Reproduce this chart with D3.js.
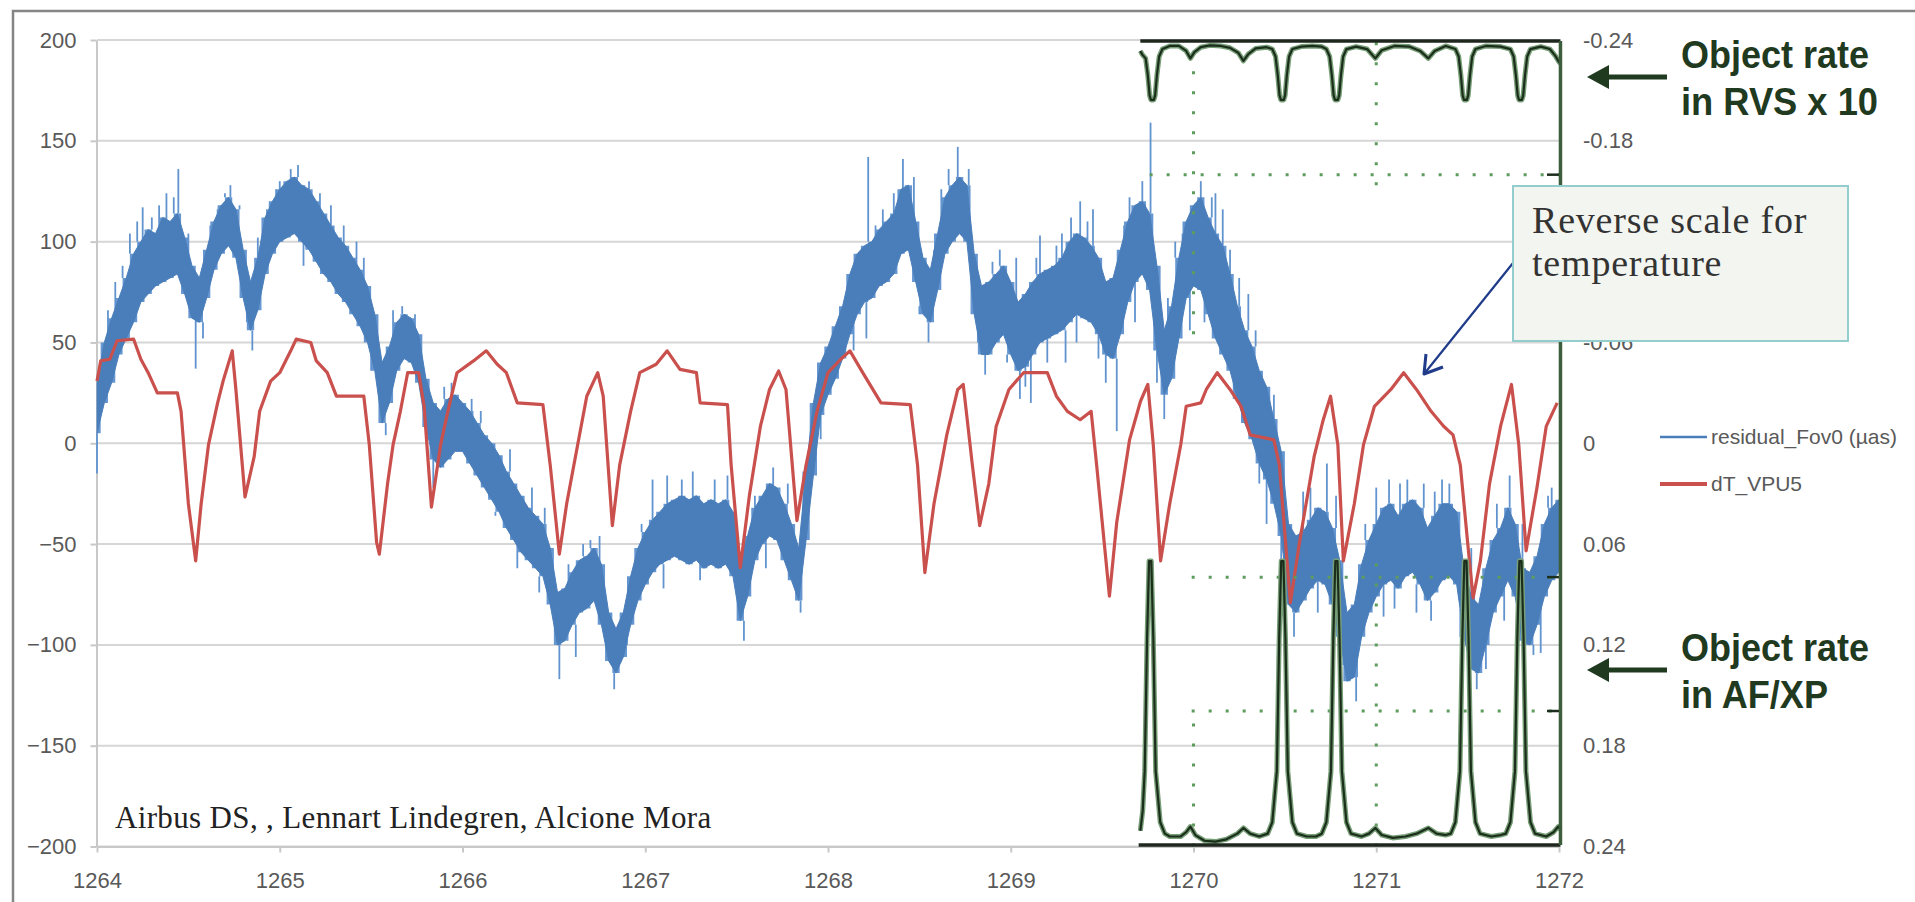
<!DOCTYPE html>
<html>
<head>
<meta charset="utf-8">
<script src="https://cdn.jsdelivr.net/npm/d3@7"></script>
<style>
  body { margin: 0; background: #fff; }
  svg { display: block; }
</style>
</head>
<body>
<svg id="chart" width="1915" height="902"></svg>
<script>
// axis ticks
const dayTicks = [1264, 1265, 1266, 1267, 1268, 1269, 1270, 1271, 1272];
const residTicks = [-200, -150, -100, -50, 0, 50, 100, 150, 200];
const tempTicks = [-0.24, -0.18, -0.12, -0.06, 0, 0.06, 0.12, 0.18, 0.24];
const hiddenTempTick = -0.12; // sits under the note box in the original

// residual_Fov0 (uas): band, one bin every 0.04 day
const residStart = 1264, residStep = 0.04;
const residLo = [5,20,30,44,52,60,70,74,78,80, 82,84,74,62,60,72,86,94,98,92,
  72,56,66,84,94,100,102,104,100,96, 90,84,80,74,70,64,58,50,36,10,
  20,36,42,40,30,8,-8,-12,-8,-4, -4,-10,-16,-22,-28,-34,-42,-48,-54,-58,
  -62,-66,-80,-100,-98,-90,-84,-82,-78,-90, -108,-114,-106,-90,-78,-70,-64,-60,-58,-56,
  -58,-60,-58,-62,-60,-62,-60,-66,-88,-76, -58,-50,-46,-48,-58,-68,-78,-48,-16,14,
  24,32,42,54,64,70,72,78,80,84, 94,96,80,64,60,76,94,100,104,100,
  64,44,44,50,54,44,36,38,44,50, 52,54,56,60,64,62,60,54,44,42,
  54,70,80,84,76,46,24,32,52,72, 78,76,64,52,44,36,22,10,2,-10,
  -18,-30,-46,-80,-84,-78,-72,-68,-70,-80, -96,-118,-116,-96,-84,-76,-70,-68,-72,-66,
  -64,-70,-78,-74,-68,-66,-70,-96,-112,-114, -100,-84,-76,-68,-76,-98,-100,-90,-76,-68,
  -64];
const residHi = [30,50,62,72,82,94,100,106,104,112, 110,114,102,88,82,96,110,118,122,116,
  96,80,92,112,120,126,130,132,128,126, 120,114,108,102,98,92,86,78,64,40,
  48,60,64,62,54,32,20,16,22,24, 20,16,10,4,0,-6,-14,-20,-26,-32,
  -36,-40,-52,-74,-72,-64,-58,-56,-52,-60, -84,-92,-84,-66,-52,-44,-38,-34,-30,-28,
  -26,-28,-26,-30,-28,-30,-28,-34,-60,-46, -32,-26,-20,-22,-30,-40,-52,-14,20,40,
  48,58,68,84,94,98,100,106,110,114, 126,128,110,92,86,104,122,128,132,128,
  94,78,80,84,88,80,70,74,80,84, 86,88,92,100,104,102,98,92,80,82,
  96,110,118,120,114,88,56,68,92,110, 118,122,112,104,98,84,68,56,48,36,
  28,12,-4,-40,-46,-44,-38,-32,-34,-42, -58,-84,-80,-60,-48,-40,-32,-30,-36,-30,
  -28,-32,-42,-36,-30,-30,-34,-62,-76,-80, -62,-48,-42,-32,-40,-62,-64,-56,-40,-32,
  -28];
// isolated outliers of the residual [day, uas]
const residSpikes = [[1264.00,-15],[1264.06,66],[1264.10,80],[1264.14,88],[1264.18,104],[1264.22,110],
  [1264.25,117],[1264.30,112],[1264.34,118],[1264.38,124],[1264.42,122],[1264.445,136],[1264.50,104],
  [1264.54,37],[1264.58,52],[1264.62,108],[1264.66,116],[1264.70,124],[1264.73,128],[1264.78,118],
  [1264.82,60],[1264.85,46],[1264.88,102],[1264.93,116],[1264.98,126],[1265.00,130],[1265.06,136],
  [1265.10,138],[1265.13,88],[1265.16,130],[1265.22,124],[1265.28,118],[1265.35,108],[1265.42,100],
  [1265.46,92],[1265.50,44],[1265.58,4],[1265.62,66],[1265.67,68],[1265.74,64],[1265.84,-22],
  [1265.90,28],[1265.94,30],[1266.05,22],[1266.10,16],[1266.18,-36],[1266.26,-3],[1266.30,-62],
  [1266.38,-22],[1266.42,-74],[1266.45,-32],[1266.53,-117],[1266.58,-60],[1266.62,-106],[1266.66,-50],
  [1266.70,-48],[1266.75,-46],[1266.83,-122],[1266.90,-100],[1266.98,-40],[1267.04,-18],[1267.10,-72],
  [1267.12,-16],[1267.20,-18],[1267.26,-14],[1267.30,-68],[1267.38,-18],[1267.45,-16],[1267.54,-98],
  [1267.60,-26],[1267.66,-62],[1267.70,-12],[1267.78,-20],[1267.85,-84],[1267.96,2],[1268.06,62],
  [1268.10,74],[1268.14,46],[1268.21,52],[1268.22,142],[1268.26,108],[1268.30,116],[1268.36,124],
  [1268.41,141],[1268.47,132],[1268.50,68],[1268.55,50],[1268.58,96],[1268.62,126],[1268.66,136],
  [1268.71,147],[1268.77,136],[1268.82,50],[1268.86,34],[1268.90,90],[1268.94,96],[1268.98,40],
  [1269.03,92],[1269.05,22],[1269.08,28],[1269.11,20],[1269.14,92],[1269.16,103],[1269.20,40],
  [1269.25,98],[1269.28,104],[1269.30,40],[1269.33,112],[1269.36,50],[1269.38,120],[1269.42,110],
  [1269.45,116],[1269.48,42],[1269.52,30],[1269.58,6],[1269.62,108],[1269.65,122],[1269.68,60],
  [1269.72,130],[1269.765,159],[1269.80,30],[1269.84,12],[1269.86,72],[1269.90,100],[1269.94,104],
  [1269.98,56],[1270.04,130],[1270.06,60],[1270.10,122],[1270.12,124],[1270.16,116],[1270.20,96],
  [1270.22,30],[1270.25,82],[1270.30,74],[1270.34,56],[1270.36,-20],[1270.40,-40],[1270.44,24],
  [1270.48,-70],[1270.55,-96],[1270.60,-24],[1270.64,-22],[1270.68,-84],[1270.73,-10],[1270.78,-26],
  [1270.82,-110],[1270.89,-128],[1270.94,-40],[1271.00,-22],[1271.04,-86],[1271.07,-18],[1271.10,-82],
  [1271.13,-20],[1271.17,-18],[1271.22,-84],[1271.26,-20],[1271.30,-88],[1271.32,-24],[1271.36,-18],
  [1271.40,-20],[1271.46,-82],[1271.52,-52],[1271.55,-122],[1271.60,-112],[1271.66,-30],[1271.70,-88],
  [1271.73,-16],[1271.80,-40],[1271.86,-105],[1271.90,-104],[1271.94,-26],[1271.96,-22]];

// dT_VPU5 (K), plotted on the reversed right axis
const tempDays = [1264.00,1264.02,1264.07,1264.11,1264.20,1264.24,1264.28,1264.33,1264.44,1264.46,
  1264.50,1264.54,1264.57,1264.61,1264.66,1264.69,1264.74,1264.76,1264.81,1264.86,
  1264.89,1264.95,1265.00,1265.06,1265.09,1265.17,1265.20,1265.26,1265.31,1265.46,
  1265.49,1265.53,1265.545,1265.59,1265.62,1265.66,1265.70,1265.76,1265.79,1265.83,
  1265.88,1265.92,1265.97,1266.06,1266.13,1266.19,1266.24,1266.30,1266.44,1266.48,
  1266.53,1266.57,1266.63,1266.68,1266.74,1266.77,1266.82,1266.86,1266.92,1266.97,
  1267.06,1267.12,1267.19,1267.28,1267.30,1267.45,1267.47,1267.52,1267.57,1267.63,
  1267.68,1267.73,1267.77,1267.83,1267.88,1267.94,1268.00,1268.07,1268.12,1268.19,
  1268.29,1268.45,1268.49,1268.53,1268.58,1268.65,1268.71,1268.74,1268.79,1268.83,
  1268.88,1268.92,1268.99,1269.07,1269.20,1269.25,1269.31,1269.38,1269.44,1269.47,
  1269.54,1269.58,1269.65,1269.71,1269.75,1269.78,1269.82,1269.87,1269.93,1269.96,
  1270.04,1270.07,1270.13,1270.20,1270.26,1270.31,1270.44,1270.47,1270.53,1270.58,
  1270.66,1270.71,1270.75,1270.79,1270.82,1270.88,1270.93,1270.99,1271.08,1271.15,
  1271.22,1271.30,1271.37,1271.42,1271.46,1271.50,1271.53,1271.57,1271.62,1271.68,
  1271.74,1271.78,1271.82,1271.88,1271.93,1271.99];
const tempVals = [-0.037,-0.049,-0.050,-0.061,-0.062,-0.050,-0.042,-0.030,-0.030,-0.019,
  0.036,0.070,0.036,0.001,-0.024,-0.037,-0.055,-0.032,0.032,0.008,
  -0.019,-0.037,-0.042,-0.055,-0.062,-0.060,-0.049,-0.042,-0.028,-0.028,
  0.001,0.059,0.066,0.024,0.001,-0.019,-0.042,-0.042,-0.022,0.038,
  0.001,-0.019,-0.042,-0.049,-0.055,-0.047,-0.042,-0.024,-0.023,0.013,
  0.066,0.036,0.001,-0.028,-0.042,-0.028,0.049,0.013,-0.019,-0.042,
  -0.047,-0.055,-0.044,-0.042,-0.024,-0.023,0.013,0.074,0.031,-0.010,
  -0.032,-0.043,-0.032,0.046,0.013,-0.019,-0.042,-0.050,-0.055,-0.042,
  -0.024,-0.023,0.013,0.077,0.036,-0.005,-0.032,-0.035,0.013,0.049,
  0.024,-0.010,-0.032,-0.042,-0.042,-0.028,-0.019,-0.014,-0.019,0.013,
  0.091,0.047,-0.002,-0.025,-0.035,0.001,0.070,0.036,0.001,-0.022,
  -0.024,-0.032,-0.042,-0.032,-0.022,-0.005,-0.002,0.013,0.095,0.059,
  0.008,-0.014,-0.028,0.001,0.070,0.036,0.001,-0.022,-0.032,-0.042,
  -0.032,-0.019,-0.010,-0.005,0.013,0.059,0.092,0.070,0.024,-0.010,
  -0.035,0.001,0.064,0.026,-0.010,-0.024];

// pasted-in panel: object rate in RVS (x10), dip depth 0..10
const rvsRate = [[1269.709,1.6],[1269.72,2.2],[1269.738,2.8],[1269.750,5.5],[1269.760,8.8],[1269.767,9.5],
  [1269.783,9.5],[1269.790,8.8],[1269.800,5.5],[1269.812,2.5],[1269.83,1.3],[1269.87,0.8],[1269.92,0.8],
  [1269.96,1.6],[1269.983,2.8],[1270.005,1.8],[1270.04,1.0],[1270.09,0.7],[1270.15,0.8],[1270.20,1.1],
  [1270.245,1.9],[1270.273,3.2],[1270.30,2.1],[1270.34,1.2],[1270.40,1.0],[1270.431,1.3],[1270.449,2.5],
  [1270.461,5.5],[1270.471,8.8],[1270.478,9.5],[1270.494,9.5],[1270.501,8.8],[1270.511,5.5],[1270.523,2.5],
  [1270.541,1.3],[1270.59,0.9],[1270.65,0.8],[1270.70,0.9],[1270.727,1.3],[1270.745,2.5],[1270.757,5.5],
  [1270.767,8.8],[1270.774,9.5],[1270.790,9.5],[1270.797,8.8],[1270.807,5.5],[1270.819,2.5],[1270.837,1.3],
  [1270.89,0.9],[1270.95,1.3],[1270.995,2.8],[1271.03,1.5],[1271.10,0.8],[1271.18,0.9],[1271.24,1.6],
  [1271.285,2.8],[1271.32,1.6],[1271.38,0.8],[1271.433,1.3],[1271.451,2.5],[1271.463,5.5],[1271.473,8.8],
  [1271.480,9.5],[1271.496,9.5],[1271.503,8.8],[1271.513,5.5],[1271.525,2.5],[1271.543,1.3],[1271.60,0.8],
  [1271.68,0.9],[1271.734,1.3],[1271.752,2.5],[1271.764,5.5],[1271.774,8.8],[1271.781,9.5],[1271.797,9.5],
  [1271.804,8.8],[1271.814,5.5],[1271.826,2.5],[1271.844,1.3],[1271.90,0.9],[1271.95,1.3],[1271.98,2.4],
  [1272.00,3.4],[1272.008,3.6]];
// pasted-in panel: object rate in AF/XP, 0..10
const afRate = [[1269.709,0.5],[1269.722,1.2],[1269.733,2.6],[1269.746,7.3],[1269.757,10],[1269.769,10],[1269.780,7.3],
  [1269.793,2.6],[1269.818,0.8],[1269.843,0.4],[1269.87,0.3],[1269.93,0.3],[1269.96,0.45],[1269.983,0.65],
  [1270.01,0.35],[1270.06,0.15],[1270.12,0.12],[1270.18,0.2],[1270.24,0.4],[1270.273,0.6],[1270.31,0.4],
  [1270.36,0.3],[1270.406,0.4],[1270.431,0.8],[1270.456,2.6],[1270.469,7.3],[1270.480,10],[1270.492,10],
  [1270.503,7.3],[1270.516,2.6],[1270.541,0.8],[1270.566,0.4],[1270.62,0.3],[1270.67,0.3],[1270.702,0.4],
  [1270.727,0.8],[1270.752,2.6],[1270.765,7.3],[1270.776,10],[1270.788,10],[1270.799,7.3],[1270.812,2.6],
  [1270.837,0.8],[1270.862,0.4],[1270.92,0.3],[1270.96,0.4],[1270.995,0.6],[1271.03,0.35],[1271.09,0.25],
  [1271.16,0.3],[1271.22,0.4],[1271.285,0.6],[1271.33,0.4],[1271.38,0.35],[1271.408,0.4],[1271.433,0.8],
  [1271.458,2.6],[1271.471,7.3],[1271.482,10],[1271.494,10],[1271.505,7.3],[1271.518,2.6],[1271.543,0.8],
  [1271.568,0.4],[1271.63,0.3],[1271.68,0.35],[1271.709,0.4],[1271.734,0.8],[1271.759,2.6],[1271.772,7.3],
  [1271.783,10],[1271.795,10],[1271.806,7.3],[1271.819,2.6],[1271.844,0.8],[1271.869,0.4],[1271.93,0.3],
  [1271.97,0.45],[1271.996,0.65],[1272.008,0.55]];
// dotted grid of the pasted panel, in % of panel height
const insetHGrid = [[83.3, 1269.76], [33.4, 1269.99], [16.8, 1269.99]];
const insetVGrid = [[1270, 63.5, 100], [1270, 0, 15.6], [1271, 82, 100], [1271, 0, 35.8]];

const svg = d3.select("#chart");
const x = d3.scaleLinear().domain([1264, 1272]).range([97, 1559]);
const yResid = d3.scaleLinear().domain([-200, 200]).range([846.5, 40]);
const yTemp = d3.scaleLinear().domain([-0.24, 0.24]).range([40, 846.5]);
const yRvs = d3.scaleLinear().domain([0, 10]).range([41, 103]);
const yAf = d3.scaleLinear().domain([0, 10]).range([845, 561]);
const yInset = d3.scaleLinear().domain([0, 100]).range([846.5, 40]);

const labelFont = "'Liberation Sans', Arial, sans-serif";

// frame
svg.append("path").attr("d", "M13,902V11H1915")
  .attr("fill", "none").attr("stroke", "#858585").attr("stroke-width", 2.5);

// gridlines
svg.append("g").selectAll("line").data(residTicks).join("line")
  .attr("x1", x(1264)).attr("x2", x(1272))
  .attr("y1", d => yResid(d)).attr("y2", d => yResid(d))
  .attr("stroke", "#d6d6d6").attr("stroke-width", 2);

const styleAxis = g => {
  g.selectAll("text").attr("font-family", labelFont).attr("font-size", 22).attr("fill", "#595959");
  g.selectAll("line").attr("stroke", "#c8c8c8").attr("stroke-width", 2);
  g.select(".domain").attr("stroke", "#c8c8c8").attr("stroke-width", 2);
};

svg.append("g").attr("transform", `translate(${x(1264) - 0.5},0)`)
  .call(d3.axisLeft(yResid).tickValues(residTicks).tickSize(6).tickSizeOuter(0).tickPadding(14))
  .call(styleAxis);

svg.append("g").attr("transform", `translate(0,${yResid(-200)})`)
  .call(d3.axisBottom(x).tickValues(dayTicks).tickFormat(d3.format("d")).tickSize(6).tickSizeOuter(0).tickPadding(20))
  .call(styleAxis);

svg.append("g").attr("transform", `translate(${x(1272)},0)`)
  .call(d3.axisRight(yTemp).tickValues(tempTicks)
    .tickFormat(d => d === hiddenTempTick ? "" : d === 0 ? "0" : d.toFixed(2))
    .tickSize(0).tickPadding(24))
  .call(styleAxis)
  .call(g => g.select(".domain").remove());

// residual band: lighter stepped fringe under a solid core
const resid = residLo.map((lo, i) => ({ t: residStart + i * residStep, lo, hi: residHi[i] }));
svg.append("path").datum(resid)
  .attr("fill", "#6596d0")
  .attr("d", d3.area().curve(d3.curveStep).x(d => x(d.t)).y0(d => yResid(d.lo)).y1(d => yResid(d.hi)));

svg.append("g").selectAll("line").data(residSpikes).join("line")
  .attr("x1", d => x(d[0])).attr("x2", d => x(d[0]))
  .attr("y1", d => {
    const b = resid[Math.round((d[0] - residStart) / residStep)];
    return yResid(d[1] > b.hi ? b.hi : b.lo);
  })
  .attr("y2", d => yResid(d[1]))
  .attr("stroke", "#6194cf").attr("stroke-width", 1.8);

svg.append("path").datum(resid)
  .attr("fill", "#4a7ebb").attr("stroke", "#4a7ebb").attr("stroke-width", 1)
  .attr("d", d3.area().x(d => x(d.t)).y0(d => yResid(d.lo)).y1(d => yResid(d.hi)));

// temperature
svg.append("path").datum(d3.zip(tempDays, tempVals))
  .attr("fill", "none").attr("stroke", "#c9504c").attr("stroke-width", 3.2)
  .attr("stroke-linejoin", "round")
  .attr("d", d3.line().x(d => x(d[0])).y(d => yTemp(d[1])));

// pasted-in object rate panel
const inset = svg.append("g");
inset.selectAll(".hgrid").data(insetHGrid).join("line")
  .attr("x1", d => x(d[1])).attr("x2", x(1272))
  .attr("y1", d => yInset(d[0])).attr("y2", d => yInset(d[0]))
  .attr("stroke", "#5e9c5e").attr("stroke-width", 3).attr("stroke-dasharray", "3,14");
inset.selectAll(".htick").data(insetHGrid).join("line")
  .attr("x1", x(1272) - 12).attr("x2", x(1272))
  .attr("y1", d => yInset(d[0])).attr("y2", d => yInset(d[0]))
  .attr("stroke", "#1e2e1e").attr("stroke-width", 2.5);
inset.selectAll(".vgrid").data(insetVGrid).join("line")
  .attr("x1", d => x(d[0])).attr("x2", d => x(d[0]))
  .attr("y1", d => yInset(d[1])).attr("y2", d => yInset(d[2]))
  .attr("stroke", "#5e9c5e").attr("stroke-width", 3).attr("stroke-dasharray", "3,17");

[[rvsRate, yRvs], [afRate, yAf]].forEach(([data, yy]) => {
  const line = d3.line().x(d => x(d[0])).y(d => yy(d[1]));
  inset.append("path").datum(data).attr("fill", "none")
    .attr("stroke", "#789e78").attr("stroke-width", 5).attr("stroke-linejoin", "round").attr("d", line);
  inset.append("path").datum(data).attr("fill", "none")
    .attr("stroke", "#1b2e1b").attr("stroke-width", 2.2).attr("stroke-linejoin", "round").attr("d", line);
});
inset.append("line").attr("x1", x(1269.709)).attr("x2", x(1272.008))
  .attr("y1", yRvs(0)).attr("y2", yRvs(0)).attr("stroke", "#1e261e").attr("stroke-width", 3.5);
inset.append("line").attr("x1", x(1269.70)).attr("x2", x(1272.008))
  .attr("y1", yAf(0)).attr("y2", yAf(0)).attr("stroke", "#1e261e").attr("stroke-width", 3.5);
inset.append("line").attr("x1", x(1272.008)).attr("x2", x(1272.008))
  .attr("y1", yRvs(0)).attr("y2", yAf(0)).attr("stroke", "#3d5e3d").attr("stroke-width", 3.5);

// callout arrows
const callout = yy => {
  svg.append("line").attr("x1", 1667).attr("x2", 1600).attr("y1", yy).attr("y2", yy)
    .attr("stroke", "#1f3a1f").attr("stroke-width", 5);
  svg.append("path").attr("d", `M1587,${yy}L1609,${yy - 12}L1609,${yy + 12}Z`).attr("fill", "#1f3a1f");
};
callout(77);
callout(670);
const boldText = (txt, tx, ty, len) => svg.append("text")
  .attr("x", tx).attr("y", ty).attr("font-family", labelFont).attr("font-weight", "bold")
  .attr("font-size", 38).attr("fill", "#1f3a1f")
  .attr("textLength", len).attr("lengthAdjust", "spacingAndGlyphs").text(txt);
boldText("Object rate", 1681, 68, 188);
boldText("in RVS x 10", 1681, 115, 197);
boldText("Object rate", 1681, 661, 188);
boldText("in AF/XP", 1681, 708, 147);

// note box
svg.append("line").attr("x1", 1513).attr("y1", 263).attr("x2", 1424).attr("y2", 374)
  .attr("stroke", "#1f3b8a").attr("stroke-width", 2.2);
svg.append("path").attr("d", "M1426,354L1424,374L1443,367")
  .attr("fill", "none").attr("stroke", "#1f3b8a").attr("stroke-width", 3).attr("stroke-linejoin", "round");
svg.append("rect").attr("x", 1513).attr("y", 186).attr("width", 335).attr("height", 155)
  .attr("fill", "#f3f5f0").attr("stroke", "#93cdcd").attr("stroke-width", 2);
const serif = "'Liberation Serif', 'DejaVu Serif', serif";
[["Reverse scale for", 233], ["temperature", 276]].forEach(([t, yy]) =>
  svg.append("text").attr("x", 1532).attr("y", yy).attr("font-family", serif)
    .attr("font-size", 38).attr("letter-spacing", 0.8).attr("fill", "#333").text(t));

svg.append("text").attr("x", 115).attr("y", 828).attr("font-family", serif)
  .attr("font-size", 31).attr("letter-spacing", 0.35).attr("fill", "#222")
  .text("Airbus DS, , Lennart Lindegren, Alcione Mora");

// legend
const legend = [["residual_Fov0 (µas)", "#4a7ebb", 2.5, 437], ["dT_VPU5", "#c9504c", 4, 484]];
legend.forEach(([name, color, w, yy]) => {
  svg.append("line").attr("x1", 1660).attr("x2", 1707).attr("y1", yy).attr("y2", yy)
    .attr("stroke", color).attr("stroke-width", w);
  svg.append("text").attr("x", 1711).attr("y", yy + 7).attr("font-family", labelFont)
    .attr("font-size", 21).attr("fill", "#595959").text(name);
});
</script>
</body>
</html>
